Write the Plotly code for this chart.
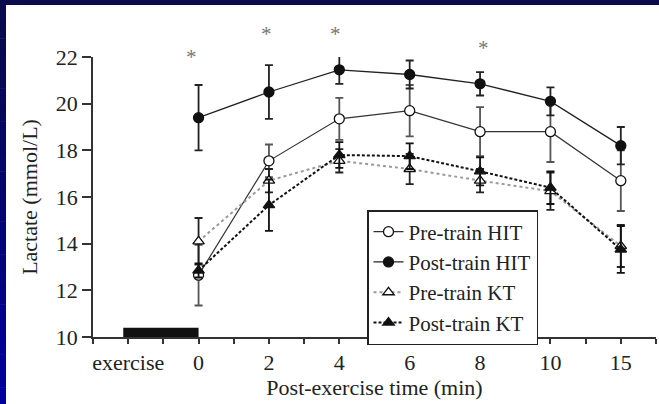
import plotly.graph_objects as go

# ---- data ----
x_labels = ["exercise", "0", "2", "4", "6", "8", "10", "15"]
x_pos = [-1, 0, 1, 2, 3, 4, 5, 6]
t_pos = [0, 1, 2, 3, 4, 5, 6]  # post-exercise sample positions (0,2,4,6,8,10,15 min)

pre_hit = [12.65, 17.55, 19.35, 19.7, 18.8, 18.8, 16.7]
pre_hit_err = [1.3, 0.7, 0.9, 1.1, 1.05, 1.3, 1.3]
post_hit = [19.4, 20.5, 21.45, 21.25, 20.85, 20.1, 18.2]
post_hit_err = [1.4, 1.15, 0.6, 0.6, 0.5, 0.6, 0.8]
pre_kt = [14.1, 16.7, 17.55, 17.2, 16.7, 16.25, 13.9]
pre_kt_err = [1.0, 0.5, 0.5, 0.65, 0.5, 0.8, 0.9]
post_kt = [12.85, 15.65, 17.8, 17.75, 17.1, 16.4, 13.75]
post_kt_err = [0.3, 1.1, 0.55, 0.55, 0.6, 0.7, 1.0]

star_x = [-0.1, 0.96, 1.95, 4.05]
star_y = [22.6, 23.6, 23.6, 23.0]

exercise_bar_x = [-1.07, 0]
exercise_bar_y = [10, 10.4]

Y_RANGE = [10, 22]
FONT = "Liberation Serif"
TXT = "#222222"
FS = 22

fig = go.Figure()

def add(name, y, err, color, dash, width, symbol, mfill, ecolor):
    fig.add_trace(go.Scatter(
        x=t_pos, y=y, name=name, mode="lines+markers",
        line=dict(color=color, dash=dash, width=width),
        marker=dict(symbol=symbol, size=10, color=mfill,
                    line=dict(color="#111111", width=1.3)),
        error_y=dict(type="data", array=err, visible=True, color=ecolor,
                     thickness=1.8, width=4),
        cliponaxis=False,
    ))

add("Pre-train HIT", pre_hit, pre_hit_err, "#333333", "solid", 1.2, "circle", "white", "#555555")
add("Post-train HIT", post_hit, post_hit_err, "#222222", "solid", 1.3, "circle", "#111111", "#222222")
add("Pre-train KT", pre_kt, pre_kt_err, "#9a9a9a", "dot", 2, "triangle-up", "white", "#222222")
add("Post-train KT", post_kt, post_kt_err, "#111111", "3px,2px", 2, "triangle-up", "#111111", "#111111")

# significance stars above the plot area (paper y computed from data value)
annotations = [
    dict(x=sx, y=(sy - Y_RANGE[0]) / (Y_RANGE[1] - Y_RANGE[0]), xref="x", yref="paper",
         text="*", showarrow=False,
         font=dict(family=FONT, size=21, color="#777777"))
    for sx, sy in zip(star_x, star_y)
]

shapes = []
# blue frame (top strip + left gradient strip)
L, R = 93, 656
T, B = 57, 337
def px_x(px):
    return (px - L) / (R - L)
def px_y(py):
    return (B - py) / (B - T)

shapes.append(dict(type="rect", xref="paper", yref="paper", layer="below",
                   x0=px_x(0), x1=px_x(659), y0=px_y(5), y1=px_y(0),
                   fillcolor="#0a0a4c", line=dict(width=0)))
n = 24
for i in range(n):
    f = i / (n - 1)
    r = int(10 * (1 - f))
    g = int(10 * (1 - f))
    b = int(76 * (1 - f) + 156 * f)
    y0 = 5 + (404 - 5) * i / n
    y1 = 5 + (404 - 5) * (i + 1) / n
    shapes.append(dict(type="rect", xref="paper", yref="paper", layer="below",
                       x0=px_x(0), x1=px_x(6), y0=px_y(y1 + 0.5), y1=px_y(y0),
                       fillcolor=f"rgb({r},{g},{b})", line=dict(width=0)))

shapes.append(dict(type="rect", xref="x", yref="y",
                   x0=exercise_bar_x[0], x1=exercise_bar_x[1],
                   y0=exercise_bar_y[0], y1=exercise_bar_y[1],
                   fillcolor="#111111", line=dict(width=0)))

fig.update_layout(
    width=659, height=404, autosize=False,
    margin=dict(l=L, r=659 - R, t=T, b=404 - B, pad=0),
    paper_bgcolor="white", plot_bgcolor="white",
    font=dict(family=FONT, size=FS, color=TXT),
    shapes=shapes, annotations=annotations,
    showlegend=True,
    legend=dict(x=px_x(367), y=px_y(210), xanchor="left", yanchor="top",
                bgcolor="white", bordercolor="#222222", borderwidth=1.5,
                font=dict(family=FONT, size=21, color=TXT),
                tracegroupgap=0, itemsizing="trace"),
    xaxis=dict(range=[-1.5, 6.5], tickmode="array", tickvals=x_pos, ticktext=x_labels,
               showgrid=False, zeroline=False, showline=True, linecolor="#333333", linewidth=1.5,
               ticks="outside", ticklen=5, tickwidth=1.5, tickcolor="#333333",
               minor=dict(tickvals=[v + 0.5 for v in x_pos] + [-1.5], ticks="outside",
                          ticklen=5, tickwidth=1.5, tickcolor="#333333", showgrid=False),
               title=dict(text="Post-exercise time (min)", standoff=2,
                          font=dict(family=FONT, size=FS, color=TXT)),
               tickfont=dict(family=FONT, size=FS, color=TXT)),
    yaxis=dict(range=Y_RANGE, dtick=2, showgrid=False, zeroline=False,
               showline=True, linecolor="#333333", linewidth=1.5,
               ticks="outside", ticklen=9, tickwidth=1.5, tickcolor="#333333",
               title=dict(text="Lactate (mmol/L)", standoff=12,
                          font=dict(family=FONT, size=FS, color=TXT)),
               tickfont=dict(family=FONT, size=FS, color=TXT)),
)

fig.write_html("out.html", config={"displayModeBar": False},
               post_script="document.body.style.margin='0';")
